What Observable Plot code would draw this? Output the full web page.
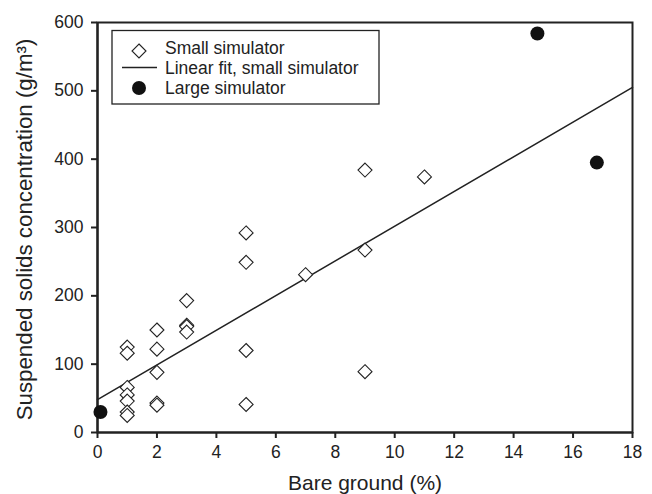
<!DOCTYPE html>
<html><head><meta charset="utf-8">
<script src="https://cdn.jsdelivr.net/npm/d3@7"></script>
<script src="https://cdn.jsdelivr.net/npm/@observablehq/plot@0.6"></script>
<style>
body{margin:0;background:#fff;font-family:"Liberation Sans",Arial,sans-serif;}
#wrap{position:relative;width:652px;height:494px;}
#wrap svg.plot text{fill:#222;}
g[aria-label="x-axis tick label"], g[aria-label="y-axis tick label"]{font-size:17.5px;}
g[aria-label="x-axis label"]{font-size:21px;}
g[aria-label="y-axis label"]{font-size:22.3px;}
#legend{position:absolute;left:0;top:0;pointer-events:none;font-family:"Liberation Sans",Arial,sans-serif;}
</style></head>
<body><div id="wrap"></div>
<script>
const smallX = [1,1,1,1,1,1,1, 2,2,2,2,2, 3,3,3,3, 5,5,5,5, 7, 9,9,9, 11];
const smallY = [125,116,66,55,46,30,25, 150,122,88,43,40, 193,157,155,147, 292,249,120,41, 231, 384,267,89, 374];
const largeX = [0.1,14.8,16.8];
const largeY = [30,584,395];
const fitX = [0,18];
const fitY = [48,505];
const xTicks = [0,2,4,6,8,10,12,14,16,18];
const yTicks = [0,100,200,300,400,500,600];
const legendLabels = ["Small simulator","Linear fit, small simulator","Large simulator"];

const small = smallX.map((x,i)=>({x, y: smallY[i]}));
const large = largeX.map((x,i)=>({x, y: largeY[i]}));
const fit = fitX.map((x,i)=>({x, y: fitY[i]}));

const chart = Plot.plot({
  className: "plot",
  width: 652, height: 494,
  marginLeft: 97, marginRight: 20, marginTop: 22, marginBottom: 62,
  style: {fontFamily: '"Liberation Sans", Arial, sans-serif', color: "#222", background: "#fff", overflow: "visible"},
  x: {domain: [0,18]},
  y: {domain: [0,600]},
  marks: [
    Plot.frame({stroke: "#222", strokeWidth: 2}),
    Plot.axisX({ticks: xTicks, tickSize: 6, tickPadding: 7, strokeWidth: 2,
      label: "Bare ground (%)", labelAnchor: "center", labelArrow: "none", labelOffset: 57}),
    Plot.axisY({ticks: yTicks, tickSize: 6, tickPadding: 8, strokeWidth: 2,
      label: "Suspended solids concentration (g/m³)", labelAnchor: "center", labelArrow: "none", labelOffset: 81}),
    Plot.ruleX([0], {stroke: "#222", strokeWidth: 2.2}),
    Plot.ruleY([0], {stroke: "#222", strokeWidth: 2.2}),
    Plot.line(fit, {x: "x", y: "y", stroke: "#222", strokeWidth: 1.5}),
    Plot.dot(small, {x: "x", y: "y", symbol: "diamond2", r: 6.3, stroke: "#222", fill: "#fff", strokeWidth: 1.1}),
    Plot.dot(large, {x: "x", y: "y", r: 7, fill: "#111", stroke: "none"})
  ]
});
document.getElementById("wrap").appendChild(chart);

// nudge the y-axis label slightly (as in the reference)
const yl = chart.querySelector('g[aria-label="y-axis label"]');
if (yl) {
  const t = yl.getAttribute("transform") || "";
  yl.setAttribute("transform", (t + " translate(0,2)").trim());
}

// legend overlay
const ns = "http://www.w3.org/2000/svg";
const lg = document.createElementNS(ns, "svg");
lg.setAttribute("id", "legend");
lg.setAttribute("width", 652);
lg.setAttribute("height", 494);
lg.innerHTML =
  '<rect x="112" y="30.5" width="267" height="73.5" fill="#fff" stroke="#222" stroke-width="1.3"/>' +
  '<path d="M139,44 L146,51 L139,58 L132,51 Z" fill="#fff" stroke="#222" stroke-width="1.1"/>' +
  '<line x1="122" y1="67.5" x2="157" y2="67.5" stroke="#222" stroke-width="1.5"/>' +
  '<circle cx="139" cy="88" r="7" fill="#111"/>' +
  legendLabels.map((t,i)=>'<text x="165" y="' + [54,73.5,93.5][i] + '" font-size="17.5" fill="#222">' + t + '</text>').join("");
document.getElementById("wrap").appendChild(lg);
</script>
</body></html>
